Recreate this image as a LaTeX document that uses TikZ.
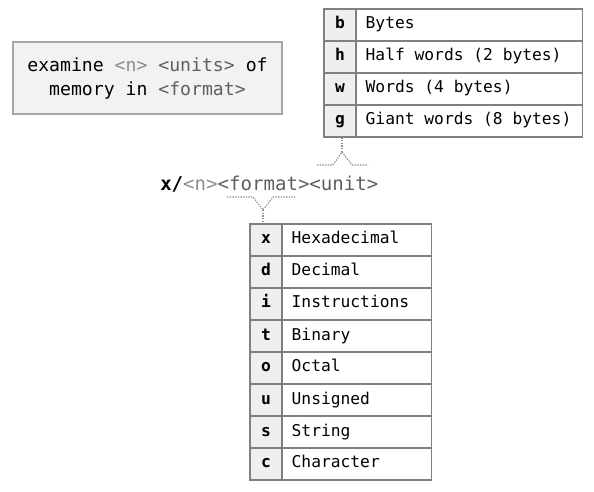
\documentclass[tikz,border=0pt]{standalone}
\usepackage{fontspec}
\setmonofont{DejaVu Sans Mono}
\usepackage{xcolor}
\usepackage{tikz}

\definecolor{ngray}{RGB}{140,140,140}
\definecolor{fgray}{RGB}{95,95,95}
\definecolor{lgray}{RGB}{128,128,128}
\definecolor{kfill}{RGB}{239,239,241}
\definecolor{bfill}{RGB}{242,242,243}

\tikzset{
  keycell/.style={draw=lgray, line width=1pt, fill=kfill, minimum width=24pt, minimum height=24pt, inner sep=0pt, text height=8.5pt, text depth=2.5pt, font=\fontsize{12.2}{14}\ttfamily\bfseries},
  valcell/.style={draw=lgray, line width=1pt, fill=white, minimum height=24pt, inner xsep=6.75pt, inner ysep=0pt, anchor=west, text height=8.5pt, text depth=2.5pt, font=\fontsize{12.2}{14}\ttfamily},
  brace/.style={draw=ngray, line width=0.8pt, dash pattern=on 1.1pt off 0.9pt},
}

\begin{document}
\begin{tikzpicture}[x=0.75pt,y=0.75pt,yscale=-1,xscale=1]
        \useasboundingbox (0,0) rectangle (594,492);

        %Shape: Rectangle [id:examine box]
        \node[draw={rgb, 255:red, 166; green, 166; blue, 166}, fill=bfill, line width=1pt, minimum width=201.75pt, minimum height=54pt, align=center, font=\fontsize{13.6}{18}\ttfamily] (exam) at (147.5,78)
            {examine {\color{ngray}<n>} {\color{fgray}<units>} of\\memory in {\color{fgray}<format>}};

        % Text Node
        \node[anchor=base west, inner sep=0pt, font=\fontsize{14.3}{17}\ttfamily] (cmd) at (160,191)
            {{\bfseries x/}{\color{ngray}<n>}{\color{fgray}<format><unit>}};

        %Shape: Table [id:unit table]
        \foreach \k/\t [count=\i] in {b/Bytes, h/Half words (2 bytes), w/Words (4 bytes), g/Giant words (8 bytes)} {
            \node[keycell] (uk\i) at (340,25+32*\i-32) {\k};
            \node[valcell] (uv\i) at (356,25+32*\i-32) {\makebox[156pt][l]{\t}};
        }

        %Shape: Table [id:format table]
        \foreach \k/\t [count=\i] in {x/Hexadecimal, d/Decimal, i/Instructions, t/Binary, o/Octal, u/Unsigned, s/String, c/Character} {
            \node[keycell] (fk\i) at (266,240+32*\i-32) {\k};
            \node[valcell] (fv\i) at (282,240+32*\i-32) {\makebox[98.25pt][l]{\t}};
        }

        %Shape: Brace [id:unit brace]
        \coordinate (utip) at (342,152);
        \draw[brace] (317,165) -- (333,165) -- (utip) -- (352,165) -- (368,165);
        \draw[brace] (utip) -- (utip |- uk4.south);

        %Shape: Brace [id:format brace]
        \coordinate (ftip) at (263,210);
        \draw[brace] (227,197) -- (253,197) -- (ftip) -- (273,197) -- (295,197);
        \draw[brace] (ftip) -- (ftip |- fk1.north);

\end{tikzpicture}
\end{document}
